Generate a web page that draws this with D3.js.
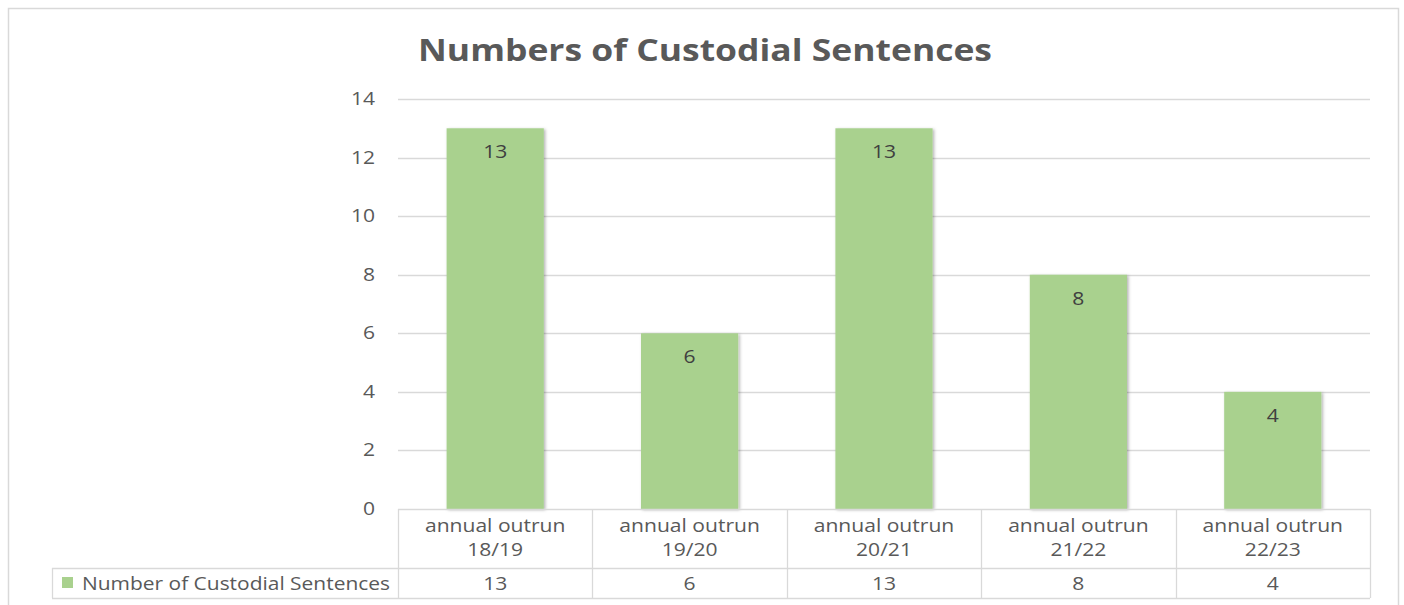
<!DOCTYPE html>
<html>
<head>
<meta charset="utf-8">
<script src="https://cdn.jsdelivr.net/npm/d3@7"></script>
<style>
  body { margin: 0; background: #fff; }
  text { font-family: "Open Sans", "Noto Sans", sans-serif; fill: #595959; }
</style>
</head>
<body>
<script>
'use strict';

// chart data
const categories = ["annual outrun 18/19", "annual outrun 19/20", "annual outrun 20/21", "annual outrun 21/22", "annual outrun 22/23"];
const values = [13, 6, 13, 8, 4];
const seriesName = "Number of Custodial Sentences";
const yTicks = [0, 2, 4, 6, 8, 10, 12, 14];
const title = "Numbers of Custodial Sentences";

const W = 1404, H = 605;
const plot = {left: 398, right: 1370, top: 99, bottom: 509};
const widen = 1.17; // the source text is drawn a bit wide

const svg = d3.select("body").append("svg")
  .attr("width", W)
  .attr("height", H);

// stretch text horizontally by a factor
function stretch(sel, k) {
  sel.each(function() {
    let w = this.getComputedTextLength();
    d3.select(this)
      .attr("textLength", w * k)
      .attr("lengthAdjust", "spacingAndGlyphs");
  });
}

// drop shadow for the bars
const defs = svg.append("defs");
defs.append("filter")
  .attr("id", "shadow")
  .attr("x", "-10%").attr("y", "-10%")
  .attr("width", "130%").attr("height", "120%")
  .append("feDropShadow")
    .attr("dx", 1.5).attr("dy", 1)
    .attr("stdDeviation", 1.8)
    .attr("flood-color", "#000")
    .attr("flood-opacity", 0.3);

// outer frame
svg.append("rect")
  .attr("x", 8.5).attr("y", 8.5)
  .attr("width", 1390).attr("height", 620)
  .attr("fill", "#fff")
  .attr("stroke", "#d9d9d9")
  .attr("stroke-width", 1.5);

// title
svg.append("text")
  .attr("x", 705)
  .attr("y", 61)
  .attr("text-anchor", "middle")
  .attr("textLength", 574)
  .attr("lengthAdjust", "spacingAndGlyphs")
  .style("font-size", "30px")
  .style("font-weight", "bold")
  .text(title);

const x = d3.scaleBand()
  .domain(categories)
  .range([plot.left, plot.right])
  .paddingInner(0.5)
  .paddingOuter(0.25);

const xCell = d3.scaleBand()
  .domain(categories)
  .range([plot.left, plot.right]);

const y = d3.scaleLinear()
  .domain([0, 14])
  .range([plot.bottom, plot.top]);

// gridlines
svg.append("g")
  .selectAll("line")
  .data(yTicks.filter(d => d > 0))
  .enter().append("line")
    .attr("x1", plot.left)
    .attr("x2", plot.right)
    .attr("y1", d => Math.round(y(d)) + 0.5)
    .attr("y2", d => Math.round(y(d)) + 0.5)
    .attr("stroke", "#d9d9d9")
    .attr("stroke-width", 1.3);

// y tick labels
svg.append("g")
  .selectAll("text")
  .data(yTicks)
  .enter().append("text")
    .attr("x", 375)
    .attr("y", d => y(d) + 6)
    .attr("text-anchor", "end")
    .style("font-size", "18px")
    .text(d => d)
    .call(stretch, widen);

// bars
svg.append("g")
  .selectAll("rect")
  .data(values)
  .enter().append("rect")
    .attr("x", (d, i) => x(categories[i]))
    .attr("y", d => y(d))
    .attr("width", x.bandwidth())
    .attr("height", d => y(0) - y(d))
    .attr("fill", "#a9d18e")
    .attr("filter", "url(#shadow)");

// value labels
svg.append("g")
  .selectAll("text")
  .data(values)
  .enter().append("text")
    .attr("x", (d, i) => x(categories[i]) + x.bandwidth() / 2)
    .attr("y", d => y(d) + 30)
    .attr("text-anchor", "middle")
    .style("font-size", "18px")
    .style("fill", "#404040")
    .text(d => d)
    .call(stretch, widen);

// data table
const tbl = svg.append("g")
  .attr("stroke", "#d9d9d9")
  .attr("stroke-width", 1.3);

const rowMid = 568, rowBot = 598, legLeft = 52;

tbl.append("line")
  .attr("x1", plot.left).attr("x2", plot.right)
  .attr("y1", plot.bottom + 0.5).attr("y2", plot.bottom + 0.5);
tbl.append("line")
  .attr("x1", legLeft).attr("x2", plot.right)
  .attr("y1", rowMid + 0.5).attr("y2", rowMid + 0.5);
tbl.append("line")
  .attr("x1", legLeft).attr("x2", plot.right)
  .attr("y1", rowBot + 0.5).attr("y2", rowBot + 0.5);
tbl.append("line")
  .attr("x1", legLeft + 0.5).attr("x2", legLeft + 0.5)
  .attr("y1", rowMid).attr("y2", rowBot);

const colEdges = categories.map(c => xCell(c)).concat([plot.right]);
tbl.selectAll(".vline")
  .data(colEdges)
  .enter().append("line")
    .attr("class", "vline")
    .attr("x1", d => Math.round(d) + 0.5)
    .attr("x2", d => Math.round(d) + 0.5)
    .attr("y1", plot.bottom)
    .attr("y2", rowBot);

// category header (two lines)
const header = svg.append("g");
header.selectAll(".l1")
  .data(categories)
  .enter().append("text")
    .attr("class", "l1")
    .attr("x", d => xCell(d) + xCell.bandwidth() / 2)
    .attr("y", 532)
    .attr("text-anchor", "middle")
    .style("font-size", "18px")
    .text(d => d.replace(/ \S+$/, ""))
    .call(stretch, widen);
header.selectAll(".l2")
  .data(categories)
  .enter().append("text")
    .attr("class", "l2")
    .attr("x", d => xCell(d) + xCell.bandwidth() / 2)
    .attr("y", 556)
    .attr("text-anchor", "middle")
    .style("font-size", "18px")
    .text(d => d.split(" ").pop())
    .call(stretch, widen);

// table values
svg.append("g")
  .selectAll("text")
  .data(values)
  .enter().append("text")
    .attr("x", (d, i) => xCell(categories[i]) + xCell.bandwidth() / 2)
    .attr("y", 590)
    .attr("text-anchor", "middle")
    .style("font-size", "18px")
    .text(d => d)
    .call(stretch, widen);

// legend key
svg.append("rect")
  .attr("x", 62).attr("y", 577)
  .attr("width", 11).attr("height", 11)
  .attr("fill", "#a9d18e");
svg.append("text")
  .attr("x", 82)
  .attr("y", 590)
  .attr("textLength", 308)
  .attr("lengthAdjust", "spacingAndGlyphs")
  .style("font-size", "18px")
  .text(seriesName);
</script>
</body>
</html>
